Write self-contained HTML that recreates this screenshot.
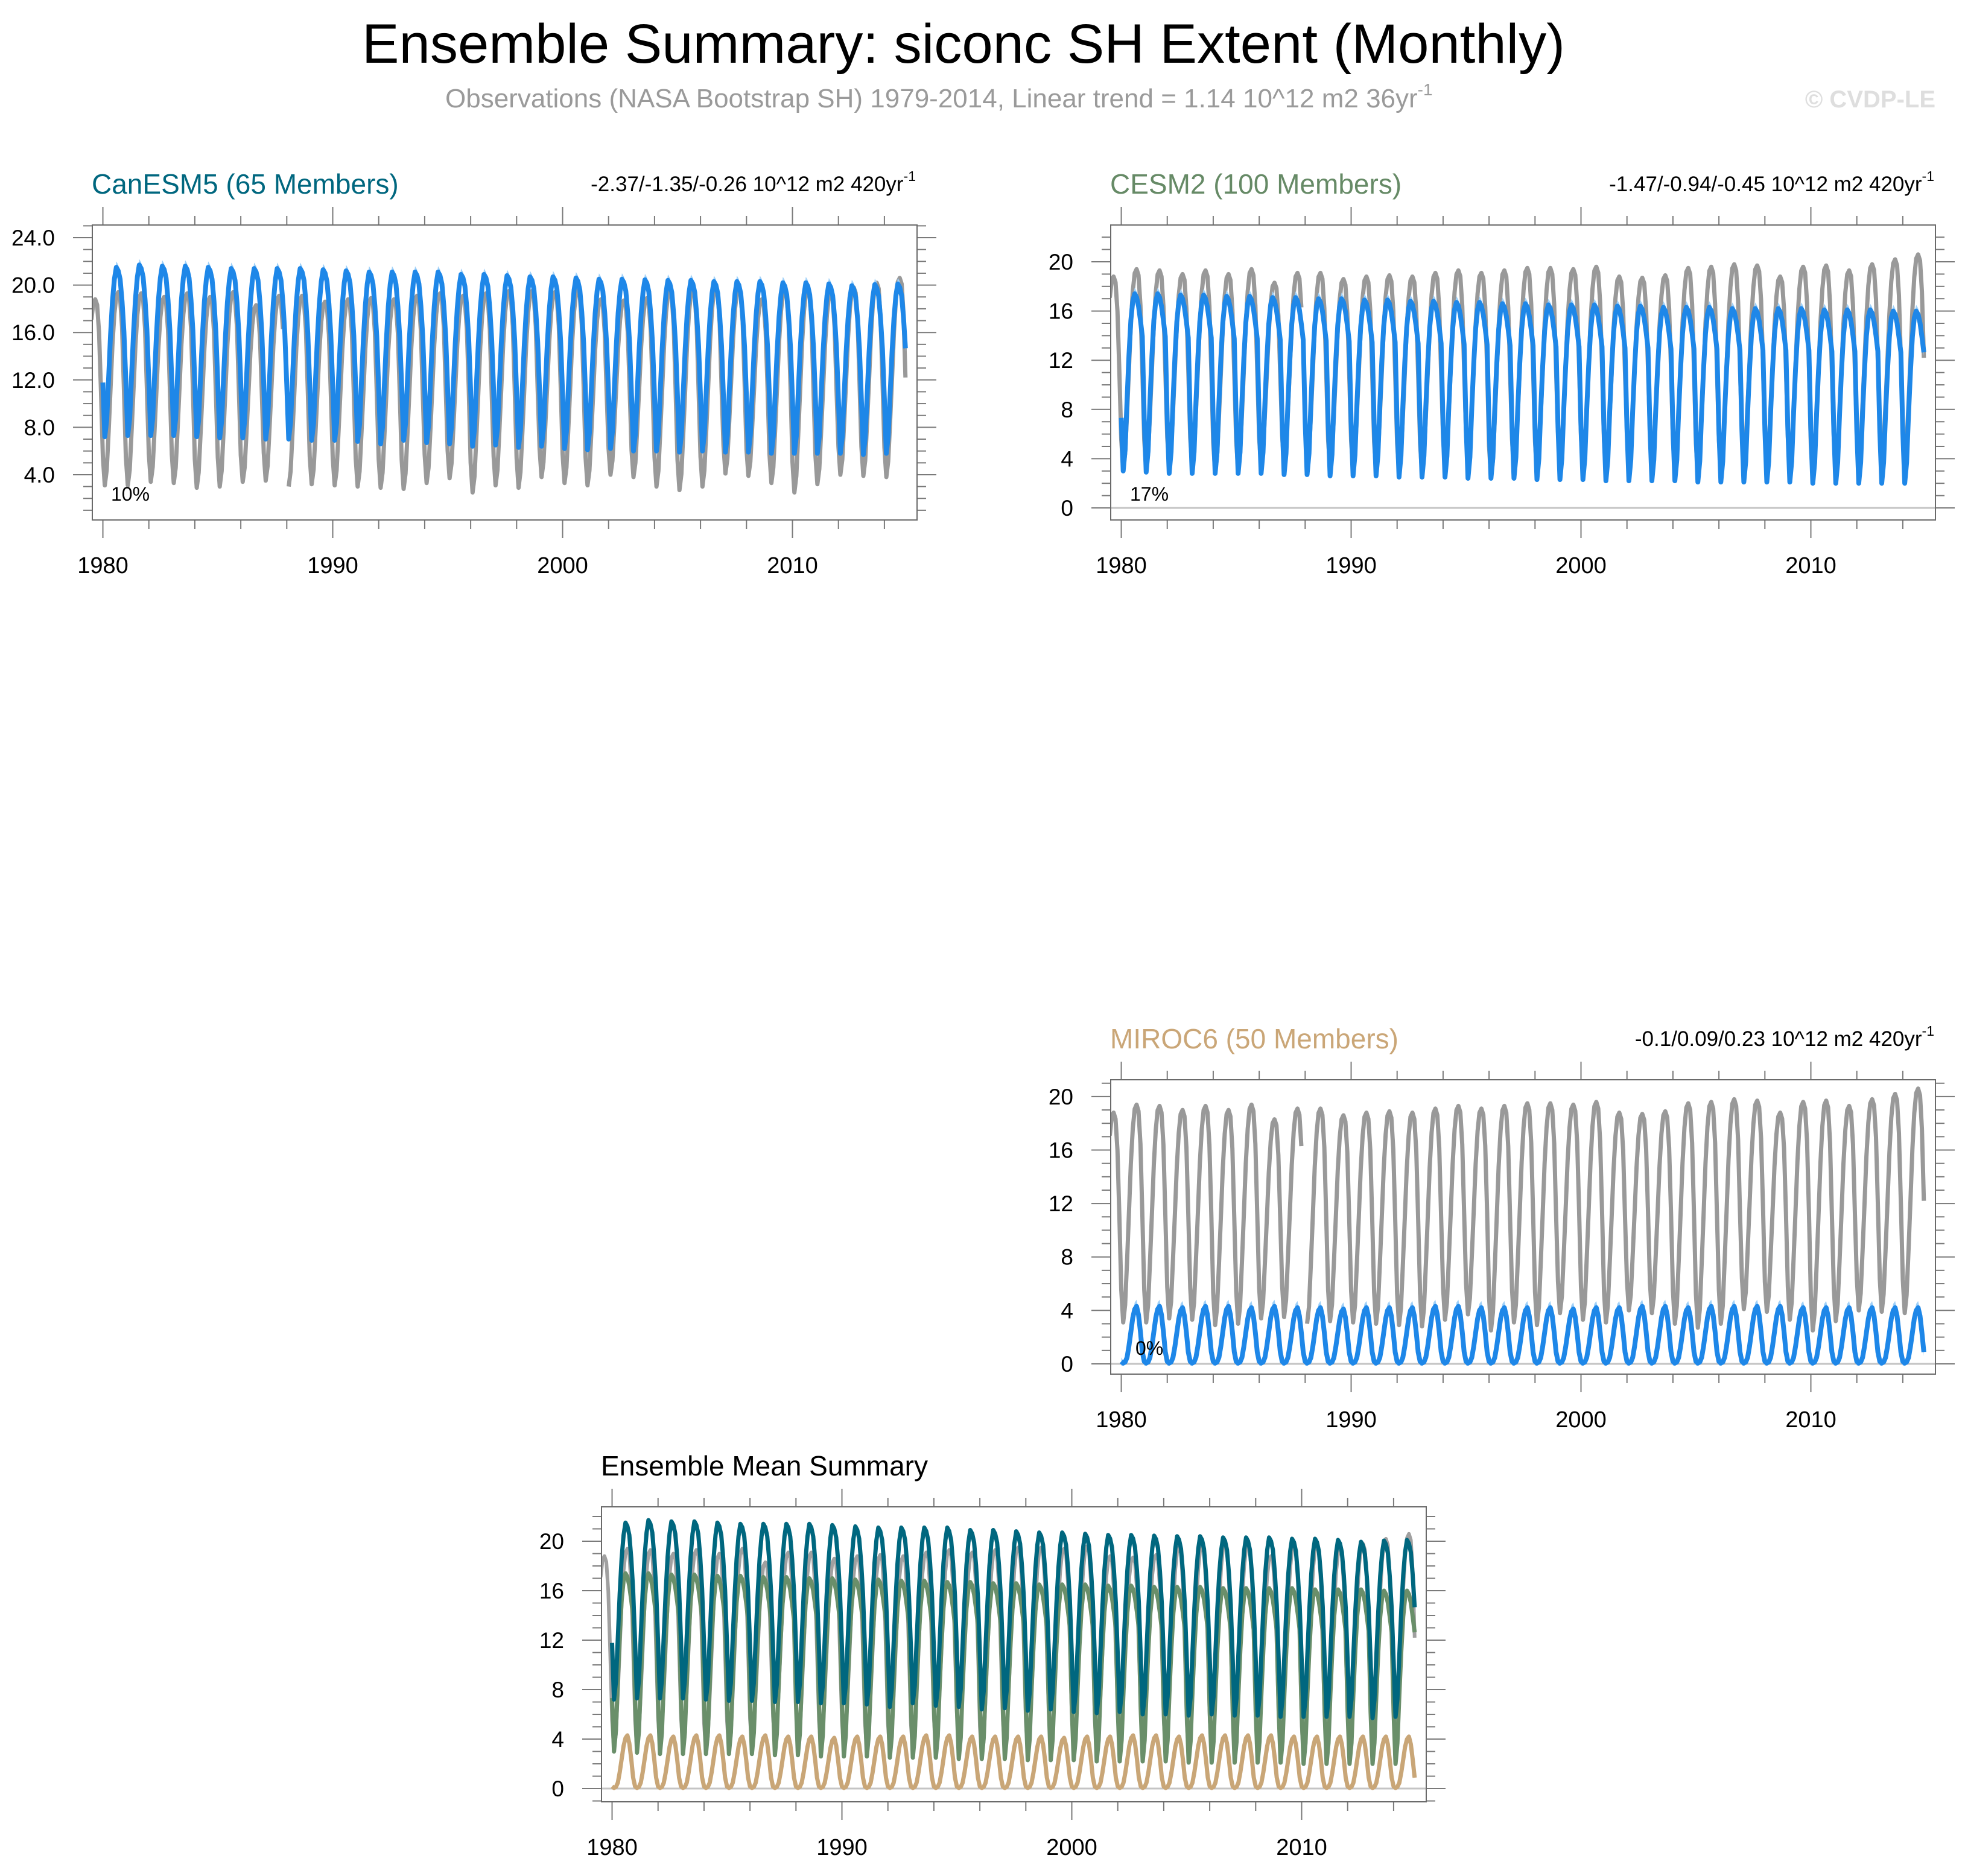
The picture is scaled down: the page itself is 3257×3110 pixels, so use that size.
<!DOCTYPE html>
<html><head><meta charset="utf-8"><title>Ensemble Summary: siconc SH Extent (Monthly)</title>
<style>html,body{margin:0;padding:0;background:#fff}svg{display:block}text{font-family:"Liberation Sans",sans-serif}</style>
</head><body>
<svg id="fig" xmlns="http://www.w3.org/2000/svg" width="3257" height="3110" viewBox="0 0 3257 3110">
<text x="600" y="104" font-size="92" textLength="1994" lengthAdjust="spacingAndGlyphs" fill="#000">Ensemble Summary: siconc SH Extent (Monthly)</text>
<text x="738" y="178" font-size="44" fill="#9a9a9a">Observations (NASA Bootstrap SH) 1979-2014, Linear trend = 1.14 10^12 m2 36yr<tspan font-size="28" dy="-20">-1</tspan></text>
<text x="3208" y="178" font-size="40" font-weight="bold" fill="#dedede" text-anchor="end">© CVDP-LE</text>
<g id="panels"></g>
</svg>
<script>
// ---- data (10^12 m2) ----
const months = ["Jan","Feb","Mar","Apr","May","Jun","Jul","Aug","Sep","Oct","Nov","Dec"];
const obsYears = [1979,1980,1981,1982,1983,1984,1985,1986,1987,1988,1989,1990,1991,1992,1993,1994,1995,1996,1997,1998,1999,2000,2001,2002,2003,2004,2005,2006,2007,2008,2009,2010,2011,2012,2013,2014];
const obsMax = [18.8,19.4,19.3,19.0,19.3,19.0,19.4,18.3,19.1,19.1,18.6,18.8,18.9,18.8,19.1,19.3,19.1,19.3,19.5,19.5,19.4,19.6,18.8,18.7,18.9,19.5,19.6,19.8,19.7,18.8,19.6,19.7,19.3,19.8,20.2,20.6];
const obsMin = [3.2,3.1,3.1,3.4,3.3,2.9,3.0,3.4,3.5,3.0,3.2,3.1,3.0,2.9,2.8,3.3,3.7,2.5,3.1,2.9,3.8,3.3,3.1,4.0,3.8,3.0,2.7,3.0,4.1,3.9,3.3,2.5,3.2,4.0,3.9,3.8];
const obsShape = [0.15,0,0.08,0.28,0.5,0.73,0.89,0.98,1,0.97,0.82,0.5];
const obsStart = 1979.5;            // first observed month: Jul 1979
const obsMissing = [1987+11/12, 1988]; // Dec 1987, Jan 1988 missing

const modelYears = [1980,1981,1982,1983,1984,1985,1986,1987,1988,1989,1990,1991,1992,1993,1994,1995,1996,1997,1998,1999,2000,2001,2002,2003,2004,2005,2006,2007,2008,2009,2010,2011,2012,2013,2014];
const canMax = [21.5,21.7,21.6,21.6,21.5,21.4,21.4,21.4,21.4,21.3,21.2,21.1,21.1,21.1,21.1,20.9,20.9,20.8,20.7,20.7,20.6,20.5,20.5,20.45,20.4,20.4,20.3,20.3,20.3,20.2,20.2,20.1,19.95,20.05,20.1];
const canMin = [7.2,7.3,7.3,7.3,7.2,7.1,7.1,7.0,7.0,6.9,6.9,6.8,6.6,6.9,6.7,6.6,6.4,6.5,6.3,6.4,6.2,6.1,6.2,6.0,6.0,5.9,6.0,5.9,5.9,5.8,5.8,5.8,5.8,5.7,5.8];
const canShape = [0.32,0,0.1,0.35,0.6,0.8,0.93,1,0.98,0.93,0.8,0.62];
const cesmMax = [17.4,17.4,17.3,17.3,17.2,17.2,17.1,17.1,17.0,17.0,16.9,16.9,16.8,16.8,16.7,16.7,16.6,16.6,16.5,16.5,16.5,16.4,16.4,16.3,16.3,16.3,16.2,16.2,16.2,16.2,16.1,16.1,16.1,16.0,16.0];
const cesmMin = [3.0,2.9,2.8,2.8,2.8,2.8,2.8,2.7,2.7,2.6,2.6,2.6,2.5,2.5,2.5,2.4,2.4,2.4,2.3,2.3,2.3,2.2,2.2,2.2,2.2,2.1,2.1,2.1,2.1,2.1,2.0,2.0,2.0,2.0,2.0];
const cesmShape = [0.3,0,0.12,0.4,0.65,0.85,0.96,1,0.98,0.93,0.85,0.76];
const mirocMax = [4.3,4.3,4.2,4.3,4.3,4.2,4.3,4.2,4.2,4.1,4.2,4.2,4.2,4.3,4.3,4.2,4.2,4.2,4.2,4.1,4.2,4.2,4.3,4.3,4.2,4.3,4.3,4.3,4.3,4.2,4.2,4.2,4.2,4.2,4.2];
const mirocMin = [0.05,0.05,0.05,0.05,0.05,0.05,0.05,0.05,0.05,0.05,0.05,0.05,0.05,0.05,0.05,0.05,0.05,0.05,0.05,0.05,0.05,0.05,0.05,0.05,0.05,0.05,0.05,0.05,0.05,0.05,0.05,0.05,0.05,0.05,0.05];
const mirocShape = [0.03,0,0.02,0.1,0.3,0.55,0.8,0.95,1,0.85,0.55,0.2];
const bandHalf = [0.3,0.2,0.2,0.2,0.3,0.3,0.4,0.5,0.5,0.4,0.3,0.3];
const xTickLabels = ["1980","1990","2000","2010"];

// ---- build monthly series from yearly extremes and seasonal cycle ----
function buildSeries(years, mx, mn, shape, start, missing) {
  const pts = [];
  years.forEach((y, i) => {
    for (let m = 0; m < 12; m++) {
      const t = y + m / 12;
      if (start !== undefined && t < start - 1e-6) continue;
      let v = mn[i] + (mx[i] - mn[i]) * shape[m];
      if (missing && missing.some(z => Math.abs(z - t) < 1e-6)) v = null;
      pts.push([t, v, m]);
    }
  });
  return pts;
}
const obs = buildSeries(obsYears, obsMax, obsMin, obsShape, obsStart, obsMissing);
const can = buildSeries(modelYears, canMax, canMin, canShape);
const cesm = buildSeries(modelYears, cesmMax, cesmMin, cesmShape);
const miroc = buildSeries(modelYears, mirocMax, mirocMin, mirocShape);

const NS = "http://www.w3.org/2000/svg";
const root = document.getElementById("panels");
function el(tag, attrs, parent) {
  const e = document.createElementNS(NS, tag);
  for (const k in attrs) e.setAttribute(k, attrs[k]);
  (parent || root).appendChild(e);
  return e;
}
const XMIN = 1979.54, XMAX = 2015.42;

function panel(o) {
  const g = el("g", {});
  
  
  const L = o.x0, R = o.x1, T = o.y0, B = o.y1;
  const xs = t => L + (t - XMIN) / (XMAX - XMIN) * (R - L);
  const ys = v => B - (v - o.ymin) / (o.ymax - o.ymin) * (B - T);
  const cid = "clip-" + o.name;
  const cp = el("clipPath", {id: cid}, g);
  el("rect", {x: L, y: T, width: R - L, height: B - T}, cp);
  const tk = el("g", {stroke: "#7a7a7a", "stroke-width": 2}, g);
  
  
  for (let y = 1980; y <= 2014; y += 2) {
    const major = (y % 10 === 0), len = major ? 30 : 15, x = xs(y);
    el("line", {x1: x, x2: x, y1: T, y2: T - len}, tk);
    el("line", {x1: x, x2: x, y1: B, y2: B + len}, tk);
  }
  for (let v = Math.ceil(o.ymin); v <= o.ymax; v++) {
    const major = (v % 4 === 0), len = major ? 32 : 15, y = ys(v);
    el("line", {x1: L, x2: L - len, y1: y, y2: y}, tk);
    el("line", {x1: R, x2: R + len, y1: y, y2: y}, tk);
  }
  for (let v = 4 * Math.ceil(o.ymin / 4); v <= o.ymax; v += 4) {
    if (o.skipZero && v === 0) continue;
    const t = el("text", {x: L - 62, y: ys(v) + 13, "font-size": 37, "text-anchor": "end", fill: "#000"}, g);
    
    
    t.textContent = o.fmt ? v.toFixed(1) : String(v);
  }
  xTickLabels.forEach(lbl => {
    const t = el("text", {x: xs(+lbl), y: B + 88, "font-size": 38, "text-anchor": "middle", fill: "#000"}, g);
    
    
    t.textContent = lbl;
  });
  if (o.zeroLine) {
    const z = el("line", {x1: L, x2: R, y1: ys(0), y2: ys(0), stroke: "#c4c4c4", "stroke-width": 3}, g);
    
    
  }
  const plot = el("g", {"clip-path": "url(#" + cid + ")"}, g);
  function line(series, color, w, nm) {
    let d = "", pen = false;
    series.forEach(p => {
      if (p[1] === null) { pen = false; return; }
      d += (pen ? "L" : "M") + xs(p[0]).toFixed(1) + " " + ys(p[1]).toFixed(1);
      pen = true;
    });
    const pth = el("path", {d: d, fill: "none", stroke: color, "stroke-width": w, "stroke-linejoin": "round"}, plot);
    
    
  }
  function band(series, nm) {
    let up = "", dn = [];
    series.forEach((p, i) => {
      up += (i ? "L" : "M") + xs(p[0]).toFixed(1) + " " + ys(p[1] + bandHalf[p[2]]).toFixed(1);
      dn.push(xs(p[0]).toFixed(1) + " " + ys(p[1] - bandHalf[p[2]]).toFixed(1));
    });
    const pth = el("path", {d: up + "L" + dn.reverse().join("L") + "Z", fill: "#9fd0f8", stroke: "none"}, plot);
    
    
  }
  o.draw(line, band);
  const fr = el("rect", {x: L, y: T, width: R - L, height: B - T, fill: "none", stroke: "#6a6a6a", "stroke-width": 2}, g);
  
  
  const tt = el("text", {x: L - 1, y: T - 52, "font-size": 46, fill: o.tcolor}, g);
  
  
  tt.textContent = o.title;
  if (o.trend) {
    const tr = el("text", {x: R - 2, y: T - 56, "font-size": 35, "text-anchor": "end", fill: "#000"}, g);
    
    
    tr.textContent = o.trend;
    const sup = el("tspan", {"font-size": 23, dy: -17}, tr);
    sup.textContent = "-1";
  }
  if (o.pct) {
    const pc = el("text", {x: o.pctX, y: o.pctY, "font-size": 32, fill: "#000"}, g);
    
    
    pc.textContent = o.pct;
  }
}

panel({name: "canesm5-panel", x0: 153, x1: 1520, y0: 373, y1: 862, ymin: 0.18, ymax: 25.07, fmt: true, skipZero: true,
  title: "CanESM5 (65 Members)", tcolor: "#00677f", trend: "-2.37/-1.35/-0.26 10^12 m2 420yr", pct: "10%", pctX: 184, pctY: 830,
  draw: (line, band) => { line(obs, "#999999", 7, "obs-line"); band(can, "canesm5-spread"); line(can, "#1e87e8", 8, "canesm5-mean-line"); }});
panel({name: "cesm2-panel", x0: 1841, x1: 3208, y0: 373, y1: 862, ymin: -0.98, ymax: 22.99, zeroLine: true,
  title: "CESM2 (100 Members)", tcolor: "#668a66", trend: "-1.47/-0.94/-0.45 10^12 m2 420yr", pct: "17%", pctX: 1873, pctY: 830,
  draw: (line, band) => { line(obs, "#999999", 7, "obs-line"); band(cesm, "cesm2-spread"); line(cesm, "#1e87e8", 8, "cesm2-mean-line"); }});
panel({name: "miroc6-panel", x0: 1841, x1: 3208, y0: 1790, y1: 2278, ymin: -0.77, ymax: 21.26, zeroLine: true,
  title: "MIROC6 (50 Members)", tcolor: "#caa677", trend: "-0.1/0.09/0.23 10^12 m2 420yr", pct: "0%", pctX: 1882, pctY: 2246,
  draw: (line, band) => { line(obs, "#999999", 7, "obs-line"); band(miroc, "miroc6-spread"); line(miroc, "#1e87e8", 8, "miroc6-mean-line"); }});
panel({name: "ensemble-mean-panel", x0: 997, x1: 2364, y0: 2498, y1: 2987, ymin: -1.07, ymax: 22.78, zeroLine: true,
  title: "Ensemble Mean Summary", tcolor: "#000",
  draw: (line) => { line(obs, "#a0a0a0", 6, "obs-line"); line(miroc, "#c9a677", 7, "miroc6-line"); line(cesm, "#6a8f6a", 7, "cesm2-line"); line(can, "#00677f", 7, "canesm5-line"); }});
</script>
</body></html>
